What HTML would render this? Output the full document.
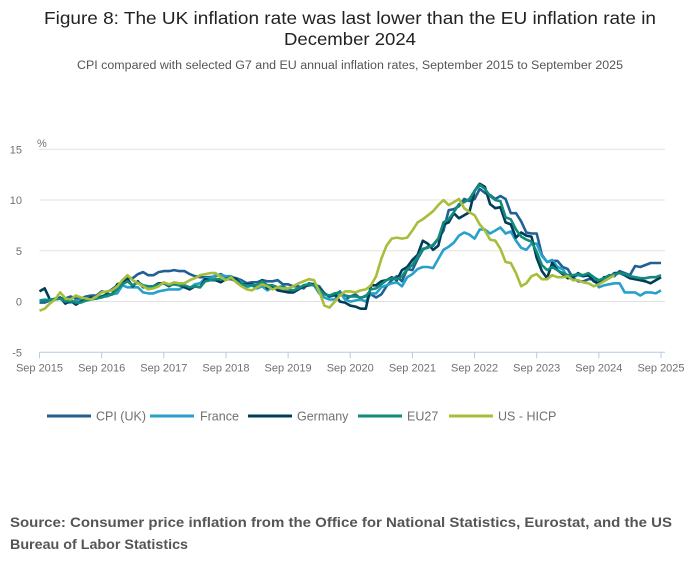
<!DOCTYPE html>
<html><head><meta charset="utf-8"><style>
body{margin:0;background:#fff;font-family:"Liberation Sans",sans-serif;}
#wrap{position:relative;width:700px;height:574px;overflow:hidden;}
</style></head><body>
<div id="wrap">
<svg id="svg" width="700" height="574" xmlns="http://www.w3.org/2000/svg">
<text x="44" y="24" textLength="612" lengthAdjust="spacingAndGlyphs" font-size="17.5" fill="#222">Figure 8: The UK inflation rate was last lower than the EU inflation rate in</text>
<text x="284" y="45" textLength="132" lengthAdjust="spacingAndGlyphs" font-size="17.5" fill="#222">December 2024</text>
<text x="77" y="69" textLength="546" lengthAdjust="spacingAndGlyphs" font-size="11.5" fill="#555">CPI compared with selected G7 and EU annual inflation rates, September 2015 to September 2025</text>
<text x="37" y="147" font-size="11" fill="#707070">%</text>
<g id="grid"></g><g id="lines"></g><g id="legend"></g>
<text x="10" y="527" textLength="662" lengthAdjust="spacingAndGlyphs" font-size="13.5" font-weight="bold" fill="#555">Source: Consumer price inflation from the Office for National Statistics, Eurostat, and the US</text>
<text x="10" y="549" textLength="178" lengthAdjust="spacingAndGlyphs" font-size="13.5" font-weight="bold" fill="#555">Bureau of Labor Statistics</text>
</svg></div>
<script>
const yTicks=[15,10,5,0,-5];
const xTickLabels=["Sep 2015","Sep 2016","Sep 2017","Sep 2018","Sep 2019","Sep 2020","Sep 2021","Sep 2022","Sep 2023","Sep 2024","Sep 2025"];
const seriesNames=["CPI (UK)","France","Germany","EU27","US - HICP"];
const uk=[-0.1,-0.1,0.1,0.2,0.3,0.3,0.5,0.3,0.3,0.5,0.6,0.6,1.0,0.9,1.2,1.6,1.8,2.3,2.3,2.7,2.9,2.6,2.6,2.9,3.0,3.0,3.1,3.0,3.0,2.7,2.5,2.4,2.4,2.4,2.5,2.7,2.4,2.4,2.3,2.1,1.8,1.9,1.9,2.1,2.0,2.0,2.1,1.7,1.7,1.5,1.5,1.3,1.8,1.7,1.5,0.8,0.5,0.6,1.0,0.2,0.5,0.7,0.3,0.6,0.7,0.4,0.7,1.5,2.1,2.5,2.0,3.2,3.1,4.2,5.1,5.4,5.5,6.2,7.0,9.0,9.1,9.4,10.1,9.9,10.1,11.1,10.7,10.5,10.1,10.4,10.1,8.7,8.7,7.9,6.8,6.7,6.7,4.6,3.9,4.0,4.0,3.4,3.2,2.3,2.0,2.0,2.2,2.2,1.7,2.3,2.6,2.5,3.0,2.8,2.6,3.5,3.4,3.6,3.8,3.8,3.8];
const france=[0.1,0.2,0.1,0.3,0.3,-0.1,-0.1,0.1,0.1,0.3,0.4,0.4,0.5,0.5,0.7,0.8,1.6,1.4,1.4,1.4,0.9,0.8,0.8,1.0,1.1,1.2,1.2,1.2,1.5,1.3,1.7,1.8,2.3,2.3,2.6,2.6,2.5,2.5,2.2,1.9,1.4,1.6,1.3,1.5,1.1,1.4,1.3,1.3,1.1,0.9,1.2,1.6,1.7,1.6,0.8,0.4,0.2,0.2,0.9,0.2,0.0,0.1,0.2,0.0,0.8,0.8,1.4,1.6,1.8,1.9,1.5,2.4,2.7,3.2,3.4,3.4,3.3,4.2,5.1,5.4,5.8,6.5,6.8,6.6,6.2,7.1,7.1,6.7,7.0,7.3,6.7,6.9,6.0,5.3,5.1,5.7,5.7,4.5,3.9,4.1,3.4,3.2,2.4,2.4,2.6,2.5,2.7,2.2,1.4,1.6,1.7,1.8,1.8,0.9,0.9,0.9,0.6,0.9,0.9,0.8,1.1];
const germany=[1.0,1.3,0.2,0.2,0.4,-0.2,0.1,-0.3,0.0,0.2,0.4,0.3,0.5,0.7,0.7,1.7,1.9,2.2,1.5,2.0,1.4,1.5,1.5,1.8,1.8,1.5,1.8,1.6,1.4,1.2,1.5,1.4,2.2,2.1,2.1,1.9,2.2,2.4,2.2,1.7,1.7,1.7,1.4,2.1,1.3,1.5,1.1,1.0,0.9,0.9,1.2,1.5,1.6,1.7,1.3,0.8,0.5,0.8,0.0,-0.1,-0.4,-0.5,-0.7,-0.7,1.6,1.6,2.0,2.1,2.4,2.1,3.1,3.4,4.1,4.6,6.0,5.7,5.1,5.5,7.6,7.8,8.7,8.2,8.5,8.8,10.9,11.6,11.3,9.6,9.2,9.3,7.8,7.6,6.3,6.8,6.5,6.4,4.3,3.0,2.3,3.8,3.1,2.7,2.3,2.4,2.8,2.5,2.6,2.0,1.8,2.4,2.4,2.8,2.8,2.6,2.3,2.2,2.1,2.0,1.8,2.1,2.4];
const eu27=[0.1,0.1,0.2,0.2,0.3,0.0,0.1,-0.1,-0.1,0.1,0.2,0.3,0.4,0.6,0.7,1.2,1.7,2.0,1.6,1.9,1.6,1.5,1.5,1.7,1.8,1.6,1.7,1.6,1.6,1.4,1.5,1.4,2.0,2.1,2.2,2.2,2.2,2.2,2.0,1.7,1.6,1.6,1.6,2.0,1.6,1.6,1.4,1.5,1.2,1.1,1.3,1.6,1.7,1.6,1.2,0.7,0.6,0.8,0.9,0.6,0.5,0.5,0.4,0.5,1.2,1.3,1.7,2.1,2.3,2.2,2.5,3.2,3.6,4.4,5.2,5.3,5.6,6.2,7.8,8.1,8.8,9.6,9.8,10.1,10.9,11.5,11.1,10.4,10.0,9.9,8.3,8.1,7.1,6.4,6.1,5.9,4.9,3.6,3.1,3.4,3.1,2.8,2.6,2.6,2.7,2.6,2.8,2.4,2.1,2.3,2.5,2.7,2.8,2.7,2.5,2.4,2.3,2.3,2.4,2.4,2.6];
const us=[-0.9,-0.7,-0.2,0.2,0.9,0.3,0.2,0.6,0.4,0.3,0.2,0.5,0.9,1.0,1.1,1.5,2.1,2.6,2.1,1.8,1.5,1.2,1.3,1.5,1.9,1.7,1.9,1.8,1.8,2.1,2.3,2.6,2.7,2.8,2.8,2.4,2.1,2.4,1.9,1.5,1.2,1.1,1.4,1.7,1.5,1.2,1.4,1.3,1.3,1.5,1.8,2.0,2.2,2.1,1.0,-0.4,-0.6,0.0,0.6,1.0,1.0,0.9,1.1,1.2,1.6,2.5,4.2,5.5,6.2,6.3,6.2,6.3,7.0,7.8,8.1,8.5,8.9,9.5,10.0,9.5,9.8,10.1,9.2,8.8,8.5,7.6,7.0,6.1,6.0,5.2,3.9,3.8,2.8,1.5,1.8,2.5,2.7,2.2,2.2,2.6,2.4,2.4,2.5,2.1,2.1,1.9,1.8,1.5,1.7,2.0,2.3,2.6];
const allSeries=[uk,france,germany,eu27,us];
const colors=["#206095","#27a0cc","#003c57","#118c7b","#a8bd3a"];
const keys=["uk","france","germany","eu27","us"];
const NS="http://www.w3.org/2000/svg";
const x0=39.5,x1=661,yTop=149.3,yBot=352.3;
function xs(i){return x0+(x1-x0)*i/120;}
function ys(v){return yBot-(v+5)/20*(yBot-yTop);}
function mk(tag,attrs,parent){const e=document.createElementNS(NS,tag);for(const k in attrs)e.setAttribute(k,attrs[k]);parent.appendChild(e);return e;}
const grid=document.getElementById('grid');
yTicks.forEach(t=>{
  if(t!==-5){const l=mk('line',{x1:x0,x2:x1+4,y1:ys(t),y2:ys(t),stroke:'#e0e0e0','stroke-width':1},grid);
  
  }
  const tx=mk('text',{x:22,y:ys(t)+4,'text-anchor':'end','font-size':11,fill:'#707070'},grid);
  tx.textContent=t;
  
  
});
const ax=mk('line',{x1:x0,x2:x1+4,y1:yBot,y2:yBot,stroke:'#b7c9e2','stroke-width':1},grid);


xTickLabels.forEach((lab,k)=>{
  const x=xs(k*12);
  const tk=mk('line',{x1:x,x2:x,y1:yBot,y2:yBot+6,stroke:'#b7c9e2'},grid);
  
  
  const tx=mk('text',{x:x,y:yBot+19,'text-anchor':'middle','font-size':11,fill:'#707070'},grid);
  tx.textContent=lab;
  
  
});
const lines=document.getElementById('lines');
allSeries.forEach((s,si)=>{
  const d=s.map((v,i)=>(i?'L':'M')+xs(i).toFixed(1)+','+ys(v).toFixed(1)).join('');
  const p=mk('path',{d:d,fill:'none',stroke:colors[si],'stroke-width':2.6,'stroke-linejoin':'round'},lines);
  
  
});
const legX=[[47,96],[150,200],[248,297],[358,407],[449,498]];
const leg=document.getElementById('legend');
seriesNames.forEach((n,si)=>{
  const g=mk('g',{},leg);
  
  
  mk('line',{x1:legX[si][0],x2:legX[si][0]+44,y1:416,y2:416,stroke:colors[si],'stroke-width':3},g);
  const t=mk('text',{x:legX[si][1],y:420.5,'font-size':12.5,fill:'#707070'},g);
  t.textContent=n;
});
</script>
</body></html>
